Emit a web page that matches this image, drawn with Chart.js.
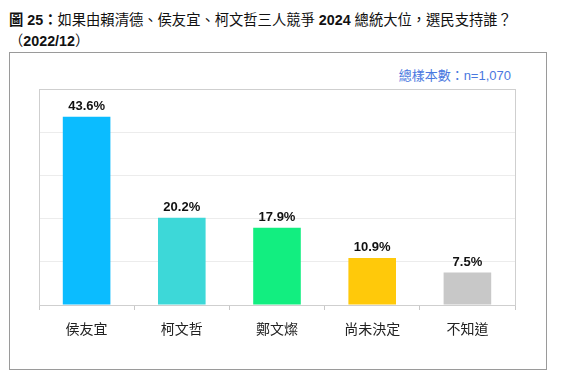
<!DOCTYPE html>
<html>
<head>
<meta charset="utf-8">
<script src="https://cdn.jsdelivr.net/npm/chart.js@4/dist/chart.umd.min.js"></script>
<style>
  html, body { margin: 0; padding: 0; background: #fff; }
  body { width: 565px; height: 380px; position: relative; overflow: hidden;
         font-family: "Liberation Sans", "Noto Sans CJK TC", sans-serif; }
  .title { position: absolute; left: 9px; top: 10px; font-size: 14.3px; line-height: 21px; color: #111; white-space: nowrap; }
  .title b { font-weight: bold; }
  .frame { position: absolute; left: 9px; top: 52px; width: 536px; height: 316px; border: 1px solid #9a9a9a; }
  .note { position: absolute; right: 54px; top: 65px; font-size: 13px; color: #4a78e0; white-space: nowrap; }
  #chart1 { position: absolute; left: 0; top: 0; }
</style>
</head>
<body>
<div class="title"><b>圖 25：</b>如果由賴清德、侯友宜、柯文哲三人競爭 <b>2024</b> 總統大位，選民支持誰？<br>（<b>2022/12</b>）</div>
<div class="frame"></div>
<div class="note">總樣本數：n=1,070</div>
<canvas id="chart1" width="565" height="380"></canvas>
<script>
// 資料
const categories = ['侯友宜', '柯文哲', '鄭文燦', '尚未決定', '不知道'];
const supportPct = [43.6, 20.2, 17.9, 10.9, 7.5];
const barColors = ['#0bbcff', '#3dd8d8', '#12ee80', '#ffc90a', '#c8c8c8'];

// 繪圖區外框與數值標籤
const plotBorder = {
  id: 'plotBorder',
  beforeDatasetsDraw(chart) {
    const { ctx, chartArea: a } = chart;
    ctx.save();
    ctx.strokeStyle = '#cfcfcf';
    ctx.lineWidth = 1;
    ctx.strokeRect(Math.round(a.left) + 0.5, Math.round(a.top) + 0.5,
      Math.round(a.right - a.left), Math.round(a.bottom - a.top));
    ctx.restore();
  },
  afterDatasetsDraw(chart) {
    const { ctx } = chart;
    const meta = chart.getDatasetMeta(0);
    ctx.save();
    ctx.font = 'bold 13px "Liberation Sans", Arial, sans-serif';
    ctx.fillStyle = '#111';
    ctx.textAlign = 'center';
    ctx.textBaseline = 'bottom';
    meta.data.forEach((bar, i) => {
      ctx.fillText(supportPct[i].toFixed(1) + '%', bar.x, bar.y - 4);
    });
    ctx.restore();
  }
};

new Chart(document.getElementById('chart1').getContext('2d'), {
  type: 'bar',
  data: {
    labels: categories,
    datasets: [{
      data: supportPct,
      backgroundColor: barColors,
      hoverBackgroundColor: barColors,
      borderWidth: 0,
      barPercentage: 0.5,
      categoryPercentage: 1
    }]
  },
  options: {
    responsive: false,
    animation: false,
    layout: { padding: { left: 39, right: 50, top: 89, bottom: 0 } },
    plugins: { legend: { display: false }, tooltip: { enabled: false } },
    scales: {
      x: {
        afterFit(s) { s.height = 75; },
        grid: { drawOnChartArea: false, tickLength: 5, color: '#c8c8c8' },
        border: { color: '#a8a8a8', width: 1 },
        ticks: { color: '#222', padding: 10, font: { size: 14, family: '"Noto Sans CJK TC", sans-serif' } }
      },
      y: {
        min: 0, max: 50,
        afterFit(s) { s.width = 0; },
        ticks: { display: false, stepSize: 10 },
        grid: { color: '#ececec', drawTicks: false },
        border: { display: false }
      }
    }
  },
  plugins: [plotBorder]
});
</script>
</body>
</html>
